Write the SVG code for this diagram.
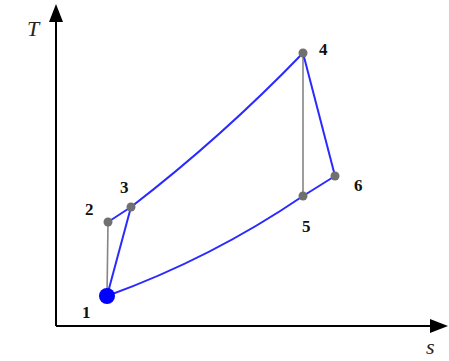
<svg xmlns="http://www.w3.org/2000/svg" width="449" height="361" viewBox="0 0 449 361">
<style>
.ax{stroke:#000;stroke-width:2;fill:none}
.blue{stroke:#2a2aff;stroke-width:2;fill:none}
.gray{stroke:#858585;stroke-width:1.6;fill:none}
.pt{fill:#707070}
.lbl{font-family:"Liberation Serif",serif;font-weight:bold;font-size:17px;fill:#111}
.axl{font-family:"Liberation Serif",serif;font-style:italic;font-size:22px;fill:#222}
</style>
<rect width="449" height="361" fill="#fff"/>
<g id="axes">
<line class="ax" x1="56" y1="326" x2="56" y2="8"/>
<path d="M49,22 L56,4 L63,22 z" fill="#000"/>
<line class="ax" x1="56" y1="326" x2="434" y2="326"/>
<path d="M430,319 L448,326 L430,333 z" fill="#000"/>
<text class="axl" x="27" y="36">T</text>
<text class="axl" x="426" y="354">s</text>
</g>
<g id="connectors">
<line class="gray" x1="107" y1="296" x2="108" y2="222"/>
<line class="gray" x1="303" y1="53" x2="303" y2="196"/>
<line class="blue" x1="107" y1="296" x2="131" y2="207"/>
<line class="blue" x1="108" y1="222" x2="131" y2="207"/>
<path class="blue" d="M131,207 Q222,137 303,53"/>
<line class="blue" x1="303" y1="53" x2="335" y2="176"/>
<line class="blue" x1="335" y1="176" x2="303" y2="196"/>
<path class="blue" d="M107,296 Q212,258 303,196"/>
</g>
<g id="n1"><circle cx="107" cy="296" r="8" fill="#0000ff"/><text class="lbl" x="82" y="318">1</text></g>
<g id="n2"><circle class="pt" cx="108" cy="222" r="4.5"/><text class="lbl" x="85" y="215">2</text></g>
<g id="n3"><circle class="pt" cx="131" cy="207" r="4.5"/><text class="lbl" x="120" y="193">3</text></g>
<g id="n4"><circle class="pt" cx="303" cy="53" r="4.5"/><text class="lbl" x="319" y="55">4</text></g>
<g id="n5"><circle class="pt" cx="303" cy="196" r="4.5"/><text class="lbl" x="302" y="232">5</text></g>
<g id="n6"><circle class="pt" cx="335" cy="176" r="4.5"/><text class="lbl" x="354" y="191">6</text></g>
</svg>
